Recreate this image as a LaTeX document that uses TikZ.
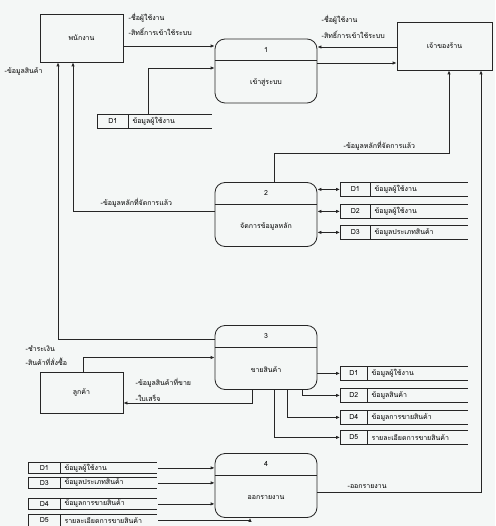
\documentclass[tikz,border=0pt]{standalone}
\usepackage{fontspec}
\newfontfamily\thaifont[Script=Thai]{Loma}
\usetikzlibrary{arrows.meta}
\definecolor{paper}{RGB}{244,247,246}

\begin{document}
\begin{tikzpicture}[x=1pt, y=-1pt, every node/.style={font=\thaifont\fontsize{7}{8}\selectfont, inner sep=1pt}]
	\tikzset{line/.style={draw=black!85, line width=0.8pt},
		flow/.style={line, -{Latex[length=4pt,width=3.5pt]}},
		both/.style={line, {Latex[length=4pt,width=3.5pt]}-{Latex[length=4pt,width=3.5pt]}},
		ent/.style={rectangle, line, minimum width=83pt, minimum height=48pt},
		proc/.style={rectangle, rounded corners=10pt, line, minimum width=102pt, minimum height=64pt},
		dsid/.style={rectangle, line, anchor=north west, inner sep=0pt},
		lbl/.style={anchor=west, inner sep=0.5pt}}
	\fill[paper] (0,0) rectangle (495,526);
	\useasboundingbox (0,0) rectangle (495,526);
	% entities
	\node[ent] (emp) at (81.5,38) {พนักงาน};
	\node[ent, minimum width=95pt] (own) at (444.5,46) {เจ้าของร้าน};
	\node[ent, minimum height=41pt] (cus) at (81.5,392.5) {ลูกค้า};
	% processes
	\foreach \n/\y/\num/\txt in {p1/71/1/เข้าสู่ระบบ, p2/214.5/2/จัดการข้อมูลหลัก, p3/357.5/3/ขายสินค้า, p4/485.5/4/ออกรายงาน} {
		\node[proc] (\n) at (266,\y) {};
		\draw[line] ([yshift=-22pt]\n.north west) -- ([yshift=-22pt]\n.north east);
		\node (\n-no) at ([yshift=-11pt]\n.north) {\num};
		\node (\n-txt) at ([yshift=-44pt]\n.north) {\txt};
	}
	% data stores
	\foreach \n/\x/\y/\w/\iw/\h/\id/\txt in {
		s1/97/114/115/31/14/D1/ข้อมูลผู้ใช้งาน,
		s2a/340/182/128/30/14/D1/ข้อมูลผู้ใช้งาน,
		s2b/340/204/128/30/14/D2/ข้อมูลผู้ใช้งาน,
		s2c/340/225/128/30/14/D3/ข้อมูลประเภทสินค้า,
		s3a/340/366/128/27/14/D1/ข้อมูลผู้ใช้งาน,
		s3b/340/388/128/27/14/D2/ข้อมูลสินค้า,
		s3c/340/410/128/27/14/D4/ข้อมูลการขายสินค้า,
		s3d/340/430/128/27/14/D5/รายละเอียดการขายสินค้า,
		s4a/28/462/129/32/11/D1/ข้อมูลผู้ใช้งาน,
		s4b/28/477/129/32/11/D3/ข้อมูลประเภทสินค้า,
		s4c/28/498/129/32/11/D4/ข้อมูลการขายสินค้า,
		s4d/28/514/129/32/12/D5/รายละเอียดการขายสินค้า} {
		\node[dsid, minimum width=\iw pt, minimum height=\h pt] (\n) at (\x,\y) {\id};
		\node[lbl] (\n-t) at ([xshift=3pt]\n.east) {\txt};
		\draw[line] (\n.north west) -- ++(\w,0) (\n.south west) -- ++(\w,0);
	}
	% flows
	\draw[flow] ([yshift=-8pt]emp.east) -- ([yshift=-8pt]emp.east -| p1.west);
	\draw[flow] ([yshift=-1pt]own.west) -- ([yshift=-1pt]own.west -| p1.east);
	\draw[flow] ([yshift=8pt]p1.east) -- ([yshift=8pt]p1.east -| own.west);
	\draw[flow] ([xshift=20pt]s1.north east) |- ([yshift=3pt]p1.west);
	\draw[flow] ([xshift=8pt]p2.north) -- ++(0,-29) -| ([xshift=4.5pt]own.south);
	\draw[flow] ([yshift=-6.5pt]p4.east) -| ([xshift=36.5pt]own.south);
	\draw[flow] ([yshift=3.5pt]p2.west) -| ([xshift=-8.5pt]emp.south);
	\draw[flow] ([yshift=18.5pt]p3.west) -| ([xshift=-23.5pt]emp.south);
	\draw[flow] ([xshift=1.5pt]cus.north) |- (p3.west);
	\draw[flow] ([xshift=-14pt]p3.south) |- ([yshift=-10.5pt]cus.east);
	\foreach \s in {s2a, s2b, s2c}
	\draw[both] (\s.west -| p2.east) -- (\s.west);
	\draw[flow] (s3a.west -| p3.east) -- (s3a.west);
	\foreach \s/\dx in {s3b/36, s3c/21, s3d/8}
	\draw[flow] ([xshift=\dx pt]p3.south) |- (\s.west);
	\foreach \s in {s4a, s4b, s4c}
	\draw[flow] ([xshift=130pt]\s.west) -- (\s.west -| p4.west);
	\draw[flow] ([xshift=130pt]s4d.west) -| ([xshift=-16pt]p4.south);
	% flow labels
	\node[lbl] (l1a) at (128,18) {-ชื่อผู้ใช้งาน};
	\node[lbl] (l1b) at (128,32) {-สิทธิ์การเข้าใช้ระบบ};
	\node[lbl] (l2a) at (321,20) {-ชื่อผู้ใช้งาน};
	\node[lbl] (l2b) at (321,35) {-สิทธิ์การเข้าใช้ระบบ};
	\node[lbl] (l3) at (4,71) {-ข้อมูลสินค้า};
	\node[lbl] (l4) at (100,203) {-ข้อมูลหลักที่จัดการแล้ว};
	\node[lbl] (l5) at (343,146) {-ข้อมูลหลักที่จัดการแล้ว};
	\node[lbl] (l6a) at (25,349) {-ชำระเงิน};
	\node[lbl] (l6b) at (25,362) {-สินค้าที่สั่งซื้อ};
	\node[lbl] (l7a) at (135,383) {-ข้อมูลสินค้าที่ขาย};
	\node[lbl] (l7b) at (135,398) {-ใบเสร็จ};
	\node[lbl] (l8) at (347,487) {-ออกรายงาน};
\end{tikzpicture}
\end{document}
